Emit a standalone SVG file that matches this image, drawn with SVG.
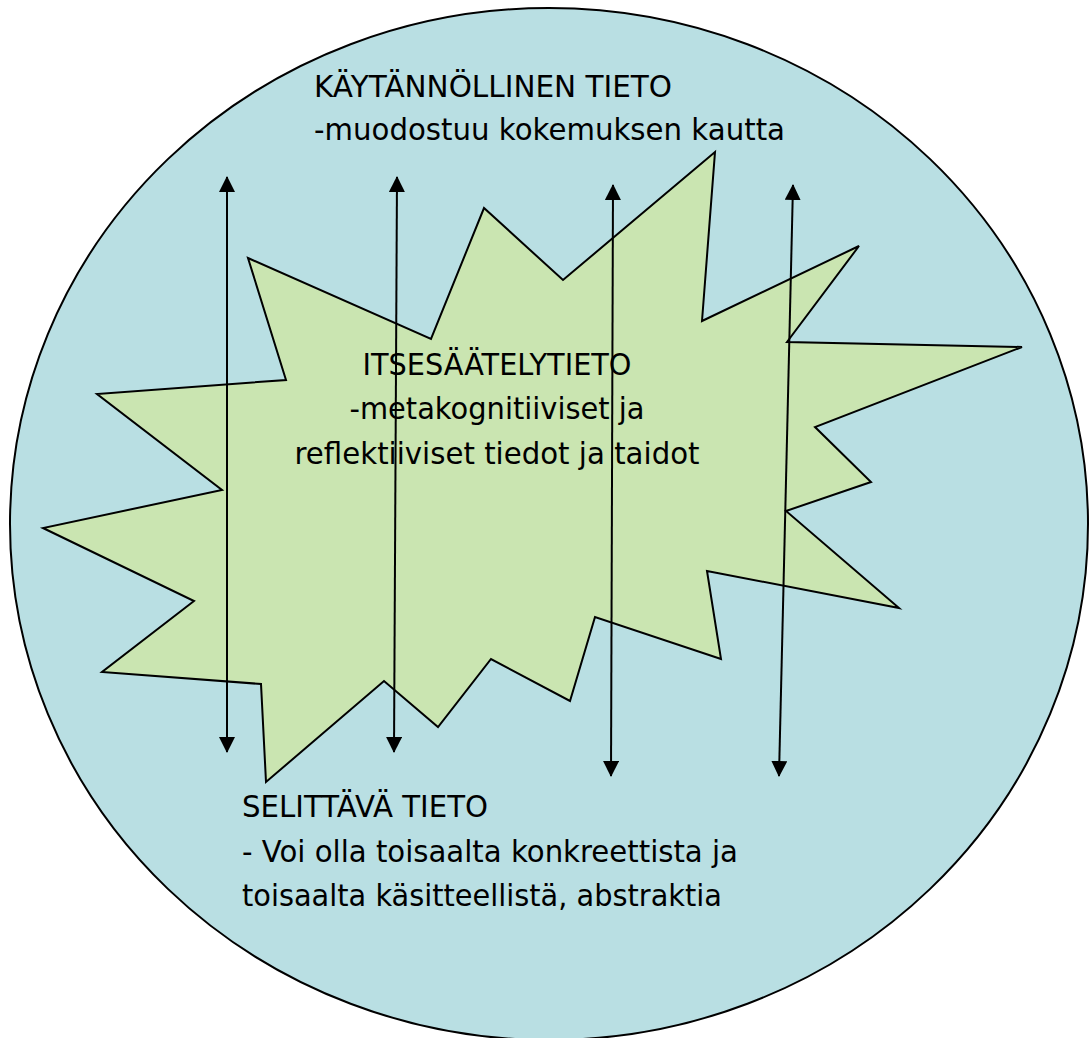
<svg xmlns="http://www.w3.org/2000/svg" width="1090" height="1038" viewBox="0 0 1090 1038">
  <style>
    .lbl { font-family: "DejaVu Sans", "Liberation Sans", sans-serif; font-size: 31px; fill: #000; }
    .conn { stroke: #000; stroke-width: 2; fill: none; marker-start: url(#ah); marker-end: url(#ah); }
  </style>
  <defs>
    <marker id="ah" viewBox="0 0 16 16" refX="15" refY="8" markerWidth="16" markerHeight="16" markerUnits="userSpaceOnUse" orient="auto-start-reverse">
      <path d="M0,0 L16,8 L0,16 Z" fill="#000"/>
    </marker>
  </defs>
  <rect width="1090" height="1038" fill="#ffffff"/>
  <g id="outer-circle">
    <ellipse cx="549" cy="524" rx="539" ry="516" fill="#b9dfe3" stroke="#000" stroke-width="2"/>
    <text class="lbl" x="314" y="97" textLength="358" lengthAdjust="spacingAndGlyphs">KÄYTÄNNÖLLINEN TIETO</text>
    <text class="lbl" x="314" y="140" textLength="471" lengthAdjust="spacingAndGlyphs">-muodostuu kokemuksen kautta</text>
    <text class="lbl" x="242" y="817" textLength="246" lengthAdjust="spacingAndGlyphs">SELITTÄVÄ TIETO</text>
    <text class="lbl" x="242" y="862" textLength="496" lengthAdjust="spacingAndGlyphs">- Voi olla toisaalta konkreettista ja</text>
    <text class="lbl" x="242" y="906" textLength="480" lengthAdjust="spacingAndGlyphs">toisaalta käsitteellistä, abstraktia</text>
  </g>
  <g id="star">
    <polygon points="248,258 431,339 484,208 563,280 715,152 702,321 859,246 787,342 1022,347 815,427 871,482 786,511 899,608 707,571 721,659 595,617 570,701 491,659 438,727 384,681 266,782 261,684 102,672 194,601 43,528 222,490 97,394 286,380" fill="#cae5b1" stroke="#000" stroke-width="2" stroke-linejoin="miter"/>
    <text class="lbl" x="497" y="375" text-anchor="middle" textLength="269" lengthAdjust="spacingAndGlyphs">ITSESÄÄTELYTIETO</text>
    <text class="lbl" x="497" y="419" text-anchor="middle" textLength="295" lengthAdjust="spacingAndGlyphs">-metakognitiiviset ja</text>
    <text class="lbl" x="497" y="464" text-anchor="middle" textLength="405" lengthAdjust="spacingAndGlyphs">reflektiiviset tiedot ja taidot</text>
  </g>
  <g id="connectors">
    <line class="conn" x1="227" y1="177" x2="227" y2="752"/>
    <line class="conn" x1="397" y1="177" x2="394" y2="752"/>
    <line class="conn" x1="613" y1="185" x2="611" y2="776"/>
    <line class="conn" x1="793" y1="185" x2="779" y2="776"/>
  </g>
</svg>
